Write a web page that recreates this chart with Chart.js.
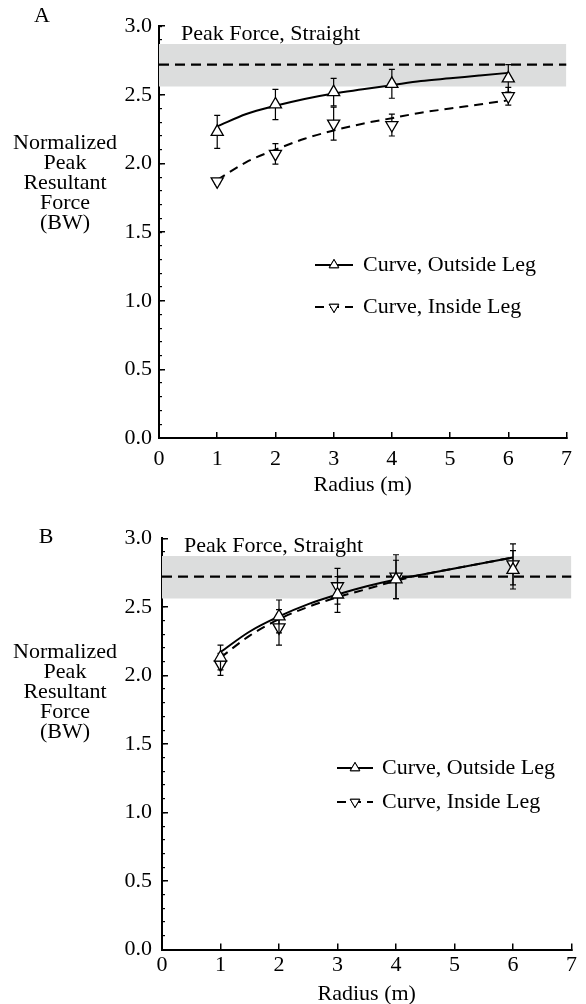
<!DOCTYPE html>
<html>
<head>
<meta charset="utf-8">
<script src="https://cdn.jsdelivr.net/npm/chart.js@4.4.1/dist/chart.umd.min.js"></script>
<style>
  html, body { margin: 0; padding: 0; background: #fff; overflow: hidden; }
  canvas { position: absolute; left: 0; }
  #chartA { top: 0; }
  #chartB { top: 502px; }
</style>
</head>
<body>
<canvas id="chartA" width="586" height="500"></canvas>
<canvas id="chartB" width="586" height="510"></canvas>
<script>
// Peak resultant force vs. curve radius, panels A and B

const FONT = "'Liberation Serif', 'Times New Roman', serif";
const FONT_SIZE = 22;

const radius = [1, 2, 3, 4, 6];
const fitRadius = [1, 1.5, 2, 2.5, 3, 3.5, 4, 4.5, 5, 5.5, 6];
const straightRadius = [0, 7];

// panel A
const outsideA = [2.23, 2.43, 2.52, 2.58, 2.62];
const outsideErrA = [0.12, 0.11, 0.10, 0.105, 0.10];
const insideA = [1.87, 2.07, 2.29, 2.28, 2.49];
const insideErrA = [0.02, 0.075, 0.12, 0.08, 0.065];
const outsideFitA = [2.27, 2.36, 2.42, 2.47, 2.51, 2.54, 2.57, 2.60, 2.62, 2.64, 2.66];
const insideFitA = [1.88, 2.01, 2.10, 2.18, 2.24, 2.29, 2.33, 2.37, 2.40, 2.43, 2.46];

// panel B
const outsideB = [2.13, 2.43, 2.59, 2.70, 2.77];
const outsideErrB = [0.09, 0.12, 0.13, 0.14, 0.14];
const insideB = [2.08, 2.35, 2.65, 2.72, 2.81];
const insideErrB = [0.08, 0.13, 0.13, 0.16, 0.15];
const outsideFitB = [2.17, 2.32, 2.43, 2.52, 2.59, 2.65, 2.70, 2.74, 2.78, 2.82, 2.86];
const insideFitB = [2.13, 2.29, 2.41, 2.50, 2.57, 2.63, 2.69, 2.74, 2.78, 2.82, 2.86];

// straight running reference (mean and band)
const straightMean = 2.72;
const straightLow = 2.56;
const straightHigh = 2.87;

const yTitleLines = ["Normalized", "Peak", "Resultant", "Force", "(BW)"];
const noteText = "Peak Force, Straight";
const outsideLabel = "Curve, Outside Leg";
const insideLabel = "Curve, Inside Leg";

function points(xs, ys) {
  return xs.map((x, i) => ({ x: x, y: ys[i] }));
}

const errorBars = {
  id: "errorBars",
  beforeDatasetDraw(chart, args) {
    const ds = chart.data.datasets[args.index];
    if (!ds.errors) return;
    const xs = chart.scales.x, ys = chart.scales.y;
    const ctx = chart.ctx;
    ctx.save();
    ctx.strokeStyle = "#000";
    ctx.lineWidth = 1.2;
    ds.data.forEach((p, i) => {
      const e = ds.errors[i];
      const px = xs.getPixelForValue(p.x);
      const top = ys.getPixelForValue(p.y + e);
      const bot = ys.getPixelForValue(p.y - e);
      ctx.beginPath();
      ctx.moveTo(px, top); ctx.lineTo(px, bot);
      ctx.moveTo(px - 3, top); ctx.lineTo(px + 3, top);
      ctx.moveTo(px - 3, bot); ctx.lineTo(px + 3, bot);
      ctx.stroke();
    });
    ctx.restore();
  }
};

const panelText = {
  id: "panelText",
  afterDraw(chart) {
    const o = chart.options.plugins.panelText;
    const ctx = chart.ctx;
    const area = chart.chartArea;
    ctx.save();
    ctx.fillStyle = "#000";
    ctx.font = FONT_SIZE + "px " + FONT;
    ctx.textAlign = "center";
    ctx.textBaseline = "middle";
    ctx.fillText(o.letter, o.letterX, o.letterY);
    yTitleLines.forEach((line, i) => ctx.fillText(line, o.titleX, o.titleY + i * 20));

    ctx.textAlign = "left";
    ctx.textBaseline = "alphabetic";
    ctx.fillText(noteText, area.left + 22, area.top + 14);

    // legend: line sample with the marker in the middle
    o.legend.forEach(row => {
      const line = chart.data.datasets[row.line];
      const mark = chart.data.datasets[row.marker];
      ctx.save();
      ctx.strokeStyle = "#000";
      ctx.lineWidth = line.borderWidth;
      ctx.setLineDash(line.borderDash || []);
      ctx.beginPath();
      ctx.moveTo(o.legendX0, row.y);
      ctx.lineTo(o.legendX1, row.y);
      ctx.stroke();
      ctx.restore();
      Chart.helpers.drawPoint(ctx, {
        pointStyle: mark.pointStyle,
        rotation: mark.rotation,
        radius: 5.5,
        borderWidth: 1.2
      }, (o.legendX0 + o.legendX1) / 2, row.y);
      ctx.fillStyle = "#fff";
      ctx.fill();
      ctx.stroke();
      ctx.fillStyle = "#000";
      ctx.textBaseline = "middle";
      ctx.fillText(mark.label, o.legendTextX, row.y);
    });
    ctx.restore();
  }
};

function buildPanel(id, d, p) {
  const font = { family: FONT, size: FONT_SIZE };
  return new Chart(document.getElementById(id), {
    type: "line",
    data: {
      datasets: [
        {
          label: "band",
          data: points(straightRadius, [straightHigh, straightHigh]),
          borderWidth: 0,
          pointRadius: 0,
          backgroundColor: "#dcdddd",
          fill: { value: straightLow },
          order: 6
        },
        {
          label: "straight",
          data: points(straightRadius, [straightMean, straightMean]),
          borderColor: "#000",
          borderWidth: 2.2,
          borderDash: [10, 6],
          pointRadius: 0,
          order: 5
        },
        {
          label: "outsideFit",
          data: points(fitRadius, d.outsideFit),
          borderColor: "#000",
          borderWidth: 2,
          pointRadius: 0,
          cubicInterpolationMode: "monotone",
          order: 4
        },
        {
          label: "insideFit",
          data: points(fitRadius, d.insideFit),
          borderColor: "#000",
          borderWidth: 2,
          borderDash: [9, 6],
          pointRadius: 0,
          cubicInterpolationMode: "monotone",
          order: 3
        },
        {
          label: insideLabel,
          data: points(radius, d.inside),
          errors: d.insideErr,
          showLine: false,
          pointStyle: "triangle",
          rotation: 180,
          pointRadius: 7,
          pointBorderWidth: 1.3,
          pointBorderColor: "#000",
          pointBackgroundColor: "#fff",
          order: 2
        },
        {
          label: outsideLabel,
          data: points(radius, d.outside),
          errors: d.outsideErr,
          showLine: false,
          pointStyle: "triangle",
          pointRadius: 7,
          pointBorderWidth: 1.3,
          pointBorderColor: "#000",
          pointBackgroundColor: "#fff",
          order: 1
        }
      ]
    },
    options: {
      responsive: false,
      animation: false,
      events: [],
      layout: { padding: { top: p.top, right: p.right, left: 0, bottom: 0 } },
      plugins: {
        legend: { display: false },
        tooltip: { enabled: false },
        panelText: p.text
      },
      scales: {
        x: {
          type: "linear",
          min: 0,
          max: 7,
          afterFit: s => { s.height = p.xHeight; },
          ticks: { stepSize: 1, padding: p.xPad, color: "#000", font: font, maxRotation: 0 },
          grid: { drawOnChartArea: false, tickLength: -6, color: "#000", lineWidth: 1.5 },
          border: { color: "#000", width: 2 },
          title: { display: true, text: "Radius (m)", color: "#000", font: font, padding: { top: 0, bottom: p.titlePad } }
        },
        y: {
          min: 0,
          max: 3,
          weight: 1,
          afterFit: s => { s.width = p.left; },
          ticks: { stepSize: 0.5, padding: p.yPad, color: "#000", font: font, callback: v => v.toFixed(1) },
          grid: { drawOnChartArea: false, tickLength: -6, color: "#000", lineWidth: 1.5 },
          border: { color: "#000", width: 2 }
        },
        yMinor: {
          position: "left",
          min: 0,
          max: 3,
          weight: 0,
          afterFit: s => { s.width = 0; },
          ticks: { stepSize: 0.1, display: false },
          grid: { drawOnChartArea: false, tickLength: -3, color: "#000", lineWidth: 1.2 },
          border: { display: false }
        }
      }
    },
    plugins: [errorBars, panelText]
  });
}

buildPanel("chartA", {
  outside: outsideA, outsideErr: outsideErrA,
  inside: insideA, insideErr: insideErrA,
  outsideFit: outsideFitA, insideFit: insideFitA
}, {
  top: 18, right: 6.5, left: 159, xHeight: 62, xPad: 14, yPad: 13, titlePad: 2,
  text: {
    letter: "A", letterX: 42, letterY: 16, titleX: 65, titleY: 143,
    legendX0: 315, legendX1: 353, legendTextX: 363,
    legend: [{ line: 2, marker: 5, y: 265 }, { line: 3, marker: 4, y: 307 }]
  }
});

buildPanel("chartB", {
  outside: outsideB, outsideErr: outsideErrB,
  inside: insideB, insideErr: insideErrB,
  outsideFit: outsideFitB, insideFit: insideFitB
}, {
  top: 36.3, right: 12, left: 162, xHeight: 62.5, xPad: 9, yPad: 16, titlePad: 5,
  text: {
    letter: "B", letterX: 46, letterY: 35, titleX: 65, titleY: 150,
    legendX0: 337, legendX1: 373, legendTextX: 382,
    legend: [{ line: 2, marker: 5, y: 266 }, { line: 3, marker: 4, y: 300 }]
  }
});
</script>
</body>
</html>
